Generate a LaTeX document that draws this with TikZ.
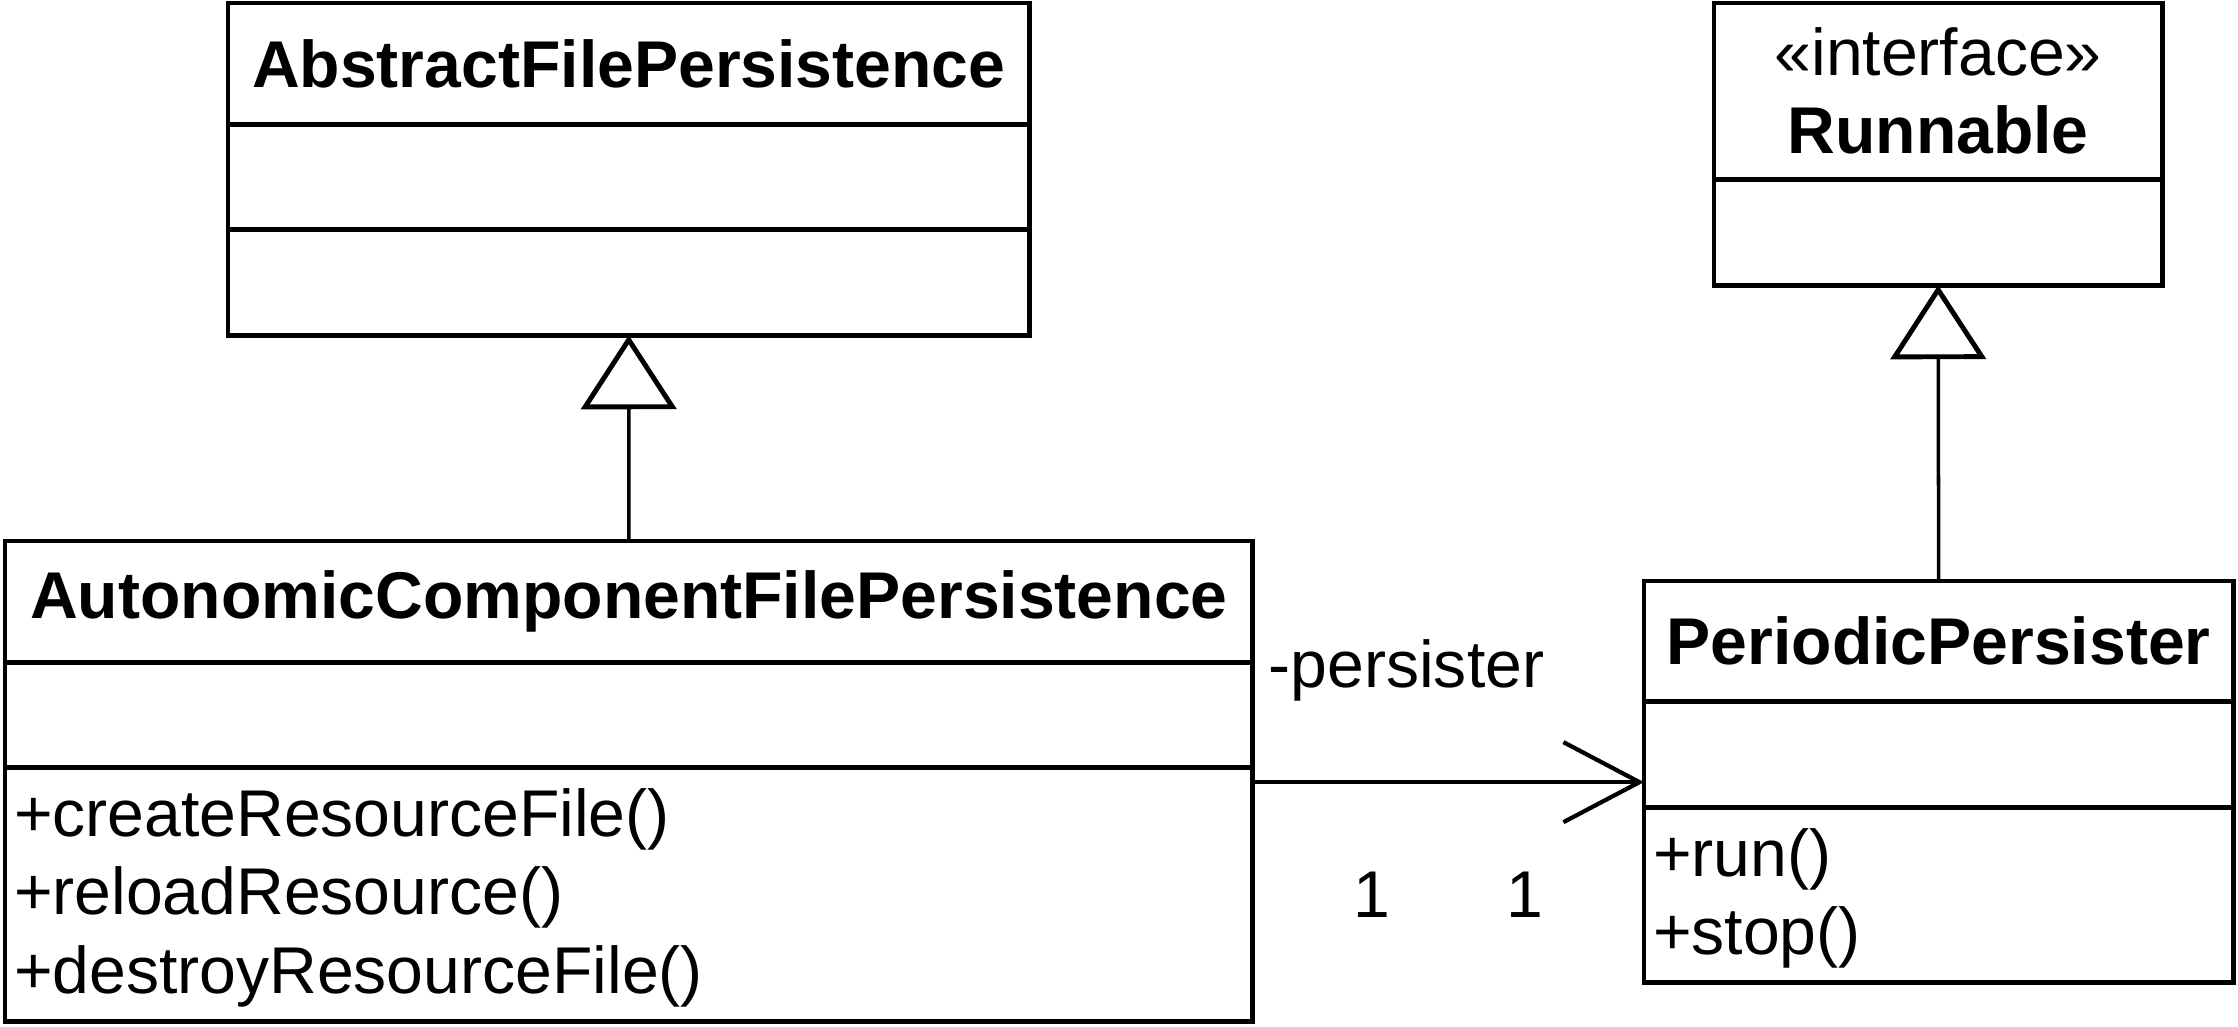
\documentclass[tikz,border=0pt]{standalone}
\usepackage{fontspec}
\setmainfont{Liberation Sans}
\usetikzlibrary{positioning,arrows.meta}

\begin{document}
\begin{tikzpicture}[
  x=0.01cm, y=-0.01cm,
  font=\fontsize{18.8pt}{22.3pt}\selectfont,
  part/.style={draw=black, line width=1.4pt, inner xsep=0.09cm, inner ysep=0pt, outer sep=0pt},
  cname/.style={part, font=\fontsize{18.8pt}{22.3pt}\selectfont\bfseries},
  ops/.style={part, align=left, text height=0.69cm},
  inherit/.style={line width=1pt, -{Triangle[open, length=0.74cm, width=0.95cm, line width=1.4pt]}},
  assoc/.style={line width=1pt, -{Straight Barb[length=0.76cm, width=0.80cm, line width=1.2pt]}}
]
  \useasboundingbox (0,0) rectangle (2238,1026);

  % Clases
  \node[cname, anchor=north west, minimum width=8.01cm, minimum height=1.21cm] (afpName) at (228,3) {AbstractFilePersistence};
  \node[part, below=0pt of afpName, minimum width=8.01cm, minimum height=1.05cm] (afpAttr) {};
  \node[part, below=0pt of afpAttr, minimum width=8.01cm, minimum height=1.06cm] (afpOps) {};

  \node[part, anchor=north west, minimum width=4.48cm, minimum height=1.76cm, align=center] (rName) at (1714,3) {«interface»\\\textbf{Runnable}};
  \node[part, below=0pt of rName, minimum width=4.48cm, minimum height=1.06cm] (rOps) {};

  \node[cname, anchor=north west, minimum width=12.47cm, minimum height=1.21cm] (acfpName) at (5,541) {AutonomicComponentFilePersistence};
  \node[part, below=0pt of acfpName, minimum width=12.47cm, minimum height=1.05cm] (acfpAttr) {};
  \node[ops, below=0pt of acfpAttr, text width=12.29cm, text depth=1.85cm] (acfpOps) {+createResourceFile()\\+reloadResource()\\+destroyResourceFile()};

  \node[cname, anchor=north west, minimum width=5.89cm, minimum height=1.20cm] (ppName) at (1644,581) {PeriodicPersister};
  \node[part, below=0pt of ppName, minimum width=5.89cm, minimum height=1.06cm] (ppAttr) {};
  \node[ops, below=0pt of ppAttr, text width=5.71cm, text depth=1.06cm] (ppOps) {+run()\\+stop()};

  % Relaciones
  \draw[inherit] (acfpName.north) -- (afpOps.south);
  \draw[inherit] (ppName.north) -- (rOps.south);

  \coordinate (assocStart) at ([yshift=-0.15cm]acfpOps.north east);
  \draw[assoc] (assocStart) -- (assocStart -| ppAttr.west);

  % Etiquetas
  \node[anchor=base west, inner sep=0pt] (roleLbl) at (1268,687) {-persister};
  \node[anchor=base, inner sep=0pt] (multSrc) at (1372,917) {1};
  \node[anchor=base, inner sep=0pt] (multDst) at (1525,917) {1};
\end{tikzpicture}
\end{document}
